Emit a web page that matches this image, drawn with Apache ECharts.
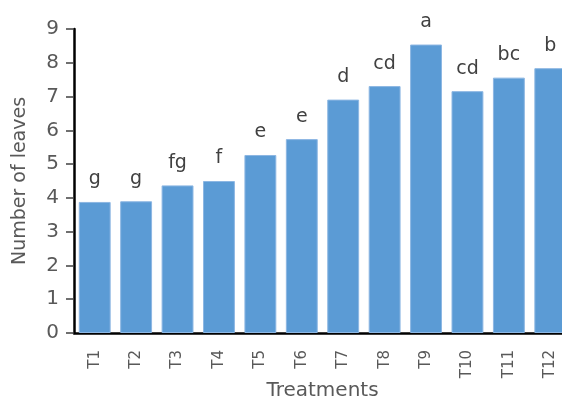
<!DOCTYPE html>
<html>
<head>
<meta charset="utf-8">
<script src="https://cdn.jsdelivr.net/npm/echarts@6/dist/echarts.min.js"></script>
<style>
  html, body { margin: 0; padding: 0; background: #fff; }
  #chart { width: 562px; height: 401px; }
</style>
</head>
<body>
<div id="chart"></div>
<script>
var categories = ['T1', 'T2', 'T3', 'T4', 'T5', 'T6', 'T7', 'T8', 'T9', 'T10', 'T11', 'T12']
var leaves = [3.88, 3.9, 4.37, 4.5, 5.27, 5.74, 6.91, 7.31, 8.54, 7.16, 7.56, 7.84]
var letters = ['g', 'g', 'fg', 'f', 'e', 'e', 'd', 'cd', 'a', 'cd', 'bc', 'b']

var myChart = echarts.init(document.getElementById('chart'))
var option = {
  animation: false,
  textStyle: { fontFamily: 'DejaVu Sans' },
  grid: {
    left: 74,
    top: 29,
    width: 497,
    height: 304,
    containLabel: false,
    outerBoundsMode: 'none'
  },
  xAxis: {
    type: 'category',
    data: categories,
    name: 'Treatments',
    nameLocation: 'middle',
    nameGap: 48,
    nameMoveOverlap: false,
    nameTextStyle: { fontSize: 20, color: '#595959' },
    axisLine: { lineStyle: { color: '#000', width: 2.5 } },
    axisTick: { show: false },
    axisLabel: { rotate: 90, fontSize: 15, color: '#595959', margin: 17 }
  },
  yAxis: {
    type: 'value',
    min: 0,
    max: 9,
    interval: 1,
    name: 'Number of leaves',
    nameLocation: 'middle',
    nameGap: 44,
    nameMoveOverlap: false,
    nameTextStyle: { fontSize: 19, color: '#595959' },
    splitLine: { show: false },
    axisLine: { show: true, lineStyle: { color: '#000', width: 2.5 } },
    axisTick: { show: true, length: 8, lineStyle: { color: '#404040', width: 1.5 } },
    axisLabel: { fontSize: 20, color: '#595959', margin: 15 }
  },
  series: [
    {
      type: 'bar',
      data: leaves,
      barCategoryGap: '23%',
      itemStyle: { color: '#5b9bd5', borderColor: '#8db7e3', borderWidth: 1 },
      label: {
        show: true,
        position: 'top',
        distance: 13,
        fontSize: 19,
        color: '#404040',
        formatter: function (arg) {
          return letters[arg.dataIndex]
        }
      }
    }
  ]
}
myChart.setOption(option)
</script>
</body>
</html>
